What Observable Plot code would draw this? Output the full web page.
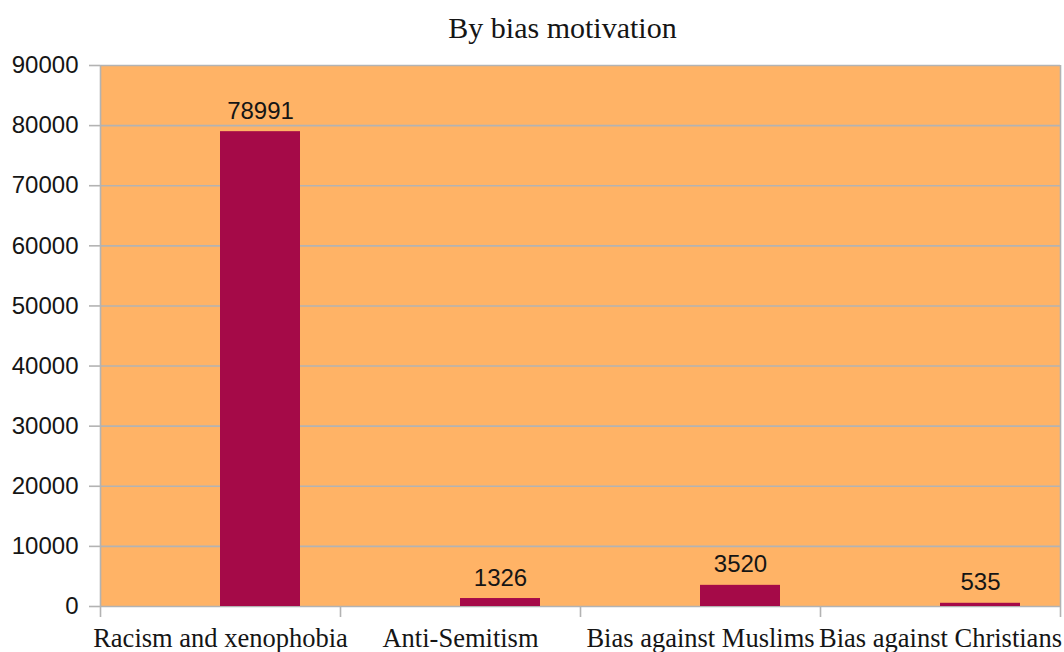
<!DOCTYPE html>
<html>
<head>
<meta charset="utf-8">
<script src="https://cdn.jsdelivr.net/npm/d3@7"></script>
<script src="https://cdn.jsdelivr.net/npm/@observablehq/plot@0.6"></script>
<style>
  html, body { margin: 0; padding: 0; background: #ffffff; }
  #chart svg { display: block; }
</style>
</head>
<body>
<div id="chart"></div>
<script>
const title = "By bias motivation";
const categories = ["Racism and xenophobia", "Anti-Semitism", "Bias against Muslims", "Bias against Christians"];
const values = [78991, 1326, 3520, 535];
const yTicks = [0, 10000, 20000, 30000, 40000, 50000, 60000, 70000, 80000, 90000];

const data = categories.map((c, i) => ({category: c, value: values[i]}));

const grid = "#b3b3b3";
const orange = "#ffb366";
const barColor = "#a50a48";
const ink = "#151515";

const chart = Plot.plot({
  width: 1064,
  height: 652,
  marginTop: 65,
  marginBottom: 46,
  marginLeft: 100,
  marginRight: 4,
  style: {background: "#ffffff", fontFamily: "Liberation Sans, Arial, sans-serif"},
  x: {type: "band", domain: categories, padding: 0},
  y: {domain: [0, 90000]},
  marks: [
    Plot.frame({fill: orange, stroke: null}),
    Plot.ruleY(yTicks, {stroke: grid, strokeWidth: 1.6}),
    // left and right frame borders
    Plot.ruleX([categories[0]], {dx: -120, stroke: grid, strokeWidth: 1.6, insetBottom: -11}),
    Plot.ruleX([categories[categories.length - 1]], {dx: 120, stroke: grid, strokeWidth: 1.6, insetBottom: -11}),
    // category boundary ticks below the baseline
    Plot.ruleX(categories.slice(1), {dx: -120, stroke: grid, strokeWidth: 1.6, insetTop: 541, insetBottom: -11}),
    Plot.barY(data, {x: "category", y: "value", fill: barColor, insetLeft: 120, insetRight: 40}),
    Plot.text(data, {
      x: "category", y: "value", text: d => String(d.value),
      dx: 40, dy: -13, lineAnchor: "bottom", fontSize: 24, fill: ink,
      fontFamily: "Liberation Sans, Arial, sans-serif"
    }),
    Plot.axisY({
      ticks: yTicks, tickFormat: d => String(d), tickSize: 11, tickPadding: 11,
      stroke: grid, strokeWidth: 1.6, fill: ink, fontSize: 24,
      fontFamily: "Liberation Sans, Arial, sans-serif", label: null
    }),
    Plot.axisX({
      tickSize: 0, tickPadding: 22, fill: ink, fontSize: 26.5,
      fontFamily: "Liberation Serif, Times New Roman, serif", label: null
    }),
    Plot.text([title], {
      frameAnchor: "top", dy: -37, dx: -18, lineAnchor: "middle",
      fontSize: 30, fill: ink, fontFamily: "Liberation Serif, Times New Roman, serif"
    })
  ]
});

document.getElementById("chart").appendChild(chart);
</script>
</body>
</html>
